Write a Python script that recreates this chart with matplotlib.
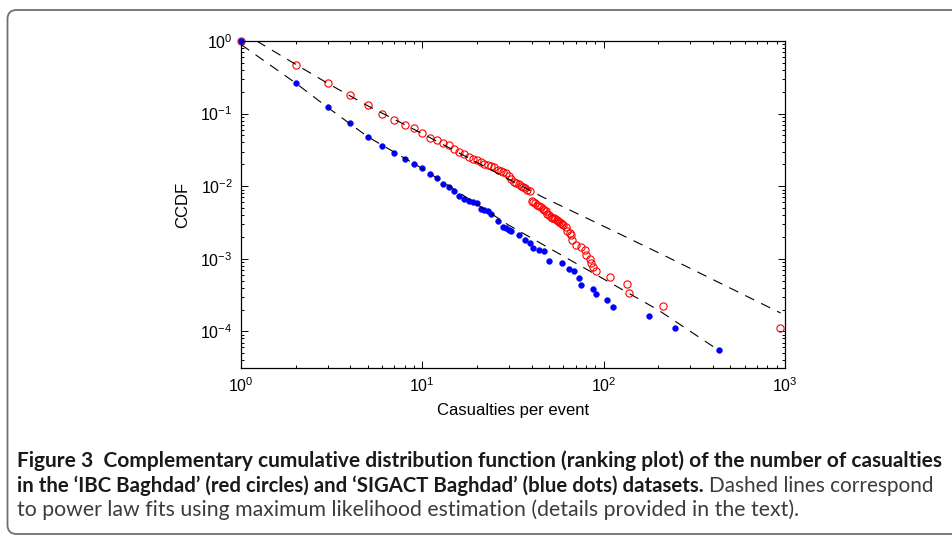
import numpy as np
import matplotlib
matplotlib.use("Agg")
import matplotlib.pyplot as plt
from matplotlib.patches import FancyBboxPatch
from matplotlib.transforms import IdentityTransform
from matplotlib.ticker import LogLocator, LogFormatterSciNotation, NullFormatter

# IBC Baghdad (red circles): casualties per event vs CCDF
ibc_x = [1, 2, 3, 4, 5, 6, 7, 8, 9, 10, 11, 12, 13, 14, 15, 16, 17, 18, 19, 20,
         21, 22, 23, 24, 25, 26, 27, 28, 29, 30, 31, 32, 33, 34, 35, 36, 37, 38, 39, 40,
         41, 42, 43, 44, 45, 46, 47, 48, 49, 50, 51, 52, 53, 54, 55, 56, 57, 58, 59, 60,
         62, 63, 65, 66, 67, 70, 75, 79, 80, 84, 85, 87, 91, 109, 134, 138, 212, 944]
ibc_ccdf = [1.0, 0.472, 0.261, 0.180, 0.130, 0.0998, 0.0824, 0.0703, 0.0633, 0.054,
            0.0457, 0.0429, 0.0390, 0.0366, 0.0329, 0.0293, 0.0275, 0.0252, 0.0240, 0.0230,
            0.0213, 0.0202, 0.0194, 0.0188, 0.0182, 0.0167, 0.0160, 0.0155, 0.0150, 0.0136,
            0.0127, 0.0115, 0.0111, 0.0107, 0.0101, 0.0096, 0.0093, 0.0089, 0.0086, 0.0063,
            0.0061, 0.0058, 0.0055, 0.0053, 0.0051, 0.0049, 0.0047, 0.0045, 0.0042, 0.0040,
            0.0038, 0.0037, 0.0036, 0.0035, 0.0034, 0.0033, 0.00325, 0.0031, 0.0030, 0.0029,
            0.00277, 0.0024, 0.00224, 0.00213, 0.00182, 0.00155, 0.00147, 0.00132, 0.00113,
            0.00098, 0.00088, 0.00078, 0.00068, 0.000556, 0.00045, 0.000335, 0.000224, 0.000111]

# SIGACT Baghdad (blue dots)
sig_x = [1, 2, 3, 4, 5, 6, 7, 8, 9, 10, 11, 12, 13, 14, 15, 16, 17, 18, 19, 20,
         21, 22, 23, 24, 26, 28, 29, 30, 31, 34, 37, 39, 41, 44, 47, 50, 59, 64, 69, 73,
         75, 87, 91, 104, 113, 178, 247, 430]
sig_ccdf = [1.0, 0.264, 0.122, 0.0735, 0.048, 0.0358, 0.0284, 0.0237, 0.020, 0.0177,
            0.0147, 0.0131, 0.0107, 0.0097, 0.0086, 0.0073, 0.0066, 0.0063, 0.0061, 0.0058,
            0.0049, 0.0047, 0.0045, 0.0042, 0.0033, 0.00277, 0.00265, 0.0025, 0.0024, 0.00213,
            0.00182, 0.00163, 0.0014, 0.00132, 0.00129, 0.00093, 0.00087, 0.00072, 0.00067,
            0.00055, 0.00044, 0.00038, 0.00033, 0.00027, 0.00022, 0.000165, 0.00011, 0.000055]

# power law fits (dashed)
ibc_fit_x = [1.22, 2, 3, 5, 10, 46, 102, 224, 946]
ibc_fit_ccdf = [1.0, 0.478, 0.262, 0.128, 0.053, 0.0071, 0.00274, 0.00106, 0.000179]
sig_fit_x = [1, 2, 3, 5, 10, 30, 200, 428]
sig_fit_ccdf = [0.895, 0.264, 0.122, 0.048, 0.0175, 0.0029, 0.000197, 0.0000555]

caption_1 = "Figure 3  Complementary cumulative distribution function (ranking plot) of the number of casualties"
caption_2b = "in the \u2018IBC Baghdad\u2019 (red circles) and \u2018SIGACT Baghdad\u2019 (blue dots) datasets."
caption_2r = "Dashed lines correspond"
caption_3 = "to power law fits using maximum likelihood estimation (details provided in the text)."

W, H = 953, 536
plt.rcParams['font.family'] = ['Liberation Sans', 'DejaVu Sans']
plt.rcParams['lines.scale_dashes'] = False

fig = plt.figure(figsize=(W / 100, H / 100), dpi=100)
fig.patch.set_facecolor("white")

ax = fig.add_axes([241 / W, 1 - 368 / H, 544 / W, 327 / H])
ax.set_xscale("log")
ax.set_yscale("log")

ax.plot(ibc_x, ibc_ccdf, linestyle="none", marker="o", markersize=5.2,
        markerfacecolor="none", markeredgecolor="#ff0000", markeredgewidth=0.8, clip_on=False)
ax.plot(sig_x, sig_ccdf, linestyle="none", marker="o", markersize=4.2,
        markerfacecolor="#0000ff", markeredgecolor="#0000ff", markeredgewidth=0.3, clip_on=False)
ax.plot(ibc_fit_x, ibc_fit_ccdf, color="black", linewidth=0.8, dashes=(7.2, 5.6))
ax.plot(sig_fit_x, sig_fit_ccdf, color="black", linewidth=0.8, dashes=(7.2, 5.6))

ax.set_xlim(1, 1000)
ax.set_ylim(3.13e-5, 1)
ax.xaxis.set_major_locator(LogLocator(base=10, numticks=10))
ax.yaxis.set_major_locator(LogLocator(base=10, numticks=10))
ax.xaxis.set_minor_locator(LogLocator(base=10, subs=np.arange(2, 10), numticks=20))
ax.yaxis.set_minor_locator(LogLocator(base=10, subs=np.arange(2, 10), numticks=20))
ax.xaxis.set_major_formatter(LogFormatterSciNotation())
ax.yaxis.set_major_formatter(LogFormatterSciNotation())
ax.xaxis.set_minor_formatter(NullFormatter())
ax.yaxis.set_minor_formatter(NullFormatter())
ax.tick_params(which="both", direction="in", top=True, right=True, width=0.7, labelsize=11.5)
ax.tick_params(which="major", length=5, pad=6)
ax.tick_params(which="minor", length=2.5)
for sp in ax.spines.values():
    sp.set_linewidth(0.9)

ax.set_xlabel("Casualties per event", fontsize=12, labelpad=6)
ax.set_ylabel("CCDF", fontsize=12, labelpad=7)

# rounded page frame (runs off the right edge)
frame = FancyBboxPatch((7.5, 2), 1200, 524, boxstyle="round,pad=0,rounding_size=9",
                       transform=IdentityTransform(), fill=False,
                       edgecolor="#707070", linewidth=1.3)
fig.add_artist(frame)

# caption
renderer = fig.canvas.get_renderer()
cap_font = ['Lato', 'DejaVu Sans']


def fitted_text(x, y, s, width, weight, color):
    t = fig.text(x / W, 1 - y / H, s, fontsize=13, fontweight=weight,
                 family=cap_font, color=color, ha="left", va="baseline")
    w = t.get_window_extent(renderer).width
    t.set_fontsize(13 * width / w)
    return t


t1 = fitted_text(17, 467, caption_1, 926, "bold", "#1a1a1a")
t3 = fitted_text(17, 516, caption_3, 777, "normal", "#3c3c3c")
t2b = fig.text(17 / W, 1 - 492 / H, caption_2b, fontsize=t1.get_fontsize(), fontweight="bold",
               family=cap_font, color="#1a1a1a", ha="left", va="baseline")
t2r = fig.text(0, 1 - 492 / H, caption_2r, fontsize=t3.get_fontsize(),
               family=cap_font, color="#3c3c3c", ha="left", va="baseline")
# squeeze the mixed line so it ends where the reference does
gap = 5
wb = t2b.get_window_extent(renderer).width
wr = t2r.get_window_extent(renderer).width
k = (931 - 17 - gap) / (wb + wr)
t2b.set_fontsize(t2b.get_fontsize() * k)
t2r.set_fontsize(t2r.get_fontsize() * k)
x_end = t2b.get_window_extent(renderer).x1
t2r.set_x((x_end + gap) / W)

fig.savefig("out.png", dpi=100)
